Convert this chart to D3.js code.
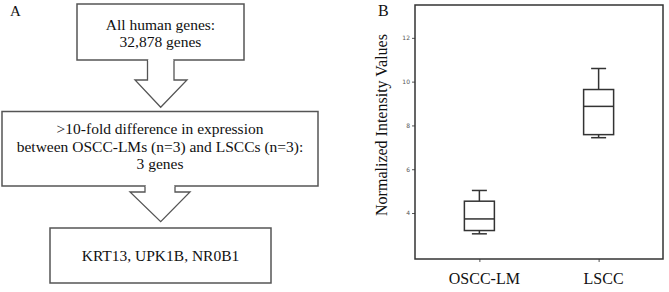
<!DOCTYPE html>
<html><head><meta charset="utf-8">
<script src="https://cdn.jsdelivr.net/npm/d3@7"></script>
<style>html,body{margin:0;padding:0;background:#fff;}svg{display:block;}</style>
</head><body>
<svg id="c" width="669" height="292"></svg>
<script>
// Panel A flow texts
const flowBox1 = ["All human genes:", "32,878 genes"];
const flowBox2 = [">10-fold difference in expression", "between OSCC-LMs (n=3) and LSCCs (n=3):", "3 genes"];
const flowBox3 = ["KRT13, UPK1B, NR0B1"];
// Panel B data
const categories = ["OSCC-LM", "LSCC"];
const whiskerLow = [3.05, 7.44];
const q1 = [3.20, 7.58];
const median = [3.73, 8.87];
const q3 = [4.54, 9.64];
const whiskerHigh = [5.03, 10.60];
const yTicks = [4, 6, 8, 10, 12];
const yLabel = "Normalized Intensity Values";

const svg = d3.select("#c");
const serif = "'Liberation Serif','Times New Roman',serif";
const boxStroke = "#555";

// ---- Panel A ----
svg.append("text").attr("x", 10).attr("y", 16).attr("font-family", serif).attr("font-size", 15).attr("fill", "#111").text("A");

function flowBox(x0, y0, x1, y1, lines, firstBase, lh) {
  svg.append("rect").attr("x", x0).attr("y", y0).attr("width", x1 - x0).attr("height", y1 - y0)
    .attr("fill", "#fff").attr("stroke", boxStroke).attr("stroke-width", 1.5);
  const cx = (x0 + x1) / 2;
  lines.forEach((t, i) => {
    svg.append("text").attr("x", cx).attr("y", firstBase + i * lh).attr("text-anchor", "middle")
      .attr("font-family", serif).attr("font-size", 15.5).attr("fill", "#111").text(t);
  });
}
function arrow(sl, sr, top, baseY, hl, hr, tipX, tipY) {
  const pts = [[sl, top], [sl, baseY], [hl, baseY], [tipX, tipY], [hr, baseY], [sr, baseY], [sr, top]];
  svg.append("path").attr("d", d3.line()(pts)).attr("fill", "#fff").attr("stroke", boxStroke).attr("stroke-width", 1.3);
  svg.append("line").attr("x1", sl + 0.8).attr("x2", sr - 0.8).attr("y1", top).attr("y2", top)
    .attr("stroke", "#fff").attr("stroke-width", 2);
}
flowBox(77, 4, 244, 60, flowBox1, 29.5, 17.5);
flowBox(2, 111.5, 318, 186, flowBox2, 134, 17.5);
flowBox(50, 228, 271, 283, flowBox3, 260.5, 17.5);
arrow(147.5, 174, 60, 80, 135, 187, 160.7, 107.3);
arrow(145, 175, 186, 192, 130, 190, 160.7, 221.7);

// ---- Panel B ----
const L = 415, R = 663, T = 5, B = 259;
const x = d3.scalePoint().domain(categories).range([L, R]).padding(0.54);
const y = d3.scaleLinear().domain([1.9, 13.5]).range([B, T]);

svg.append("text").attr("x", 378).attr("y", 16).attr("font-family", serif).attr("font-size", 16).attr("fill", "#111").text("B");

const ga = svg.append("g").attr("transform", `translate(${L},0)`)
  .call(d3.axisLeft(y).tickValues(yTicks).tickSize(3).tickPadding(2).tickFormat(d3.format("d")));
ga.select(".domain").remove();
ga.selectAll(".tick line").attr("stroke", "#555");
ga.selectAll(".tick text").attr("font-family", "'DejaVu Sans',sans-serif").attr("font-size", 6).attr("fill", "#555");

const gx = svg.append("g").attr("transform", `translate(0,${B})`)
  .call(d3.axisBottom(x).tickSize(3).tickFormat(""));
gx.select(".domain").remove();
gx.selectAll(".tick line").attr("stroke", "#555");

categories.forEach(c => {
  svg.append("text").attr("x", x(c) + 5).attr("y", 283.5).attr("text-anchor", "middle")
    .attr("font-family", serif).attr("font-size", 16).attr("fill", "#111").text(c);
});

svg.append("rect").attr("x", L).attr("y", T).attr("width", R - L).attr("height", B - T)
  .attr("fill", "none").attr("stroke", "#333").attr("stroke-width", 1.5);

svg.append("text").attr("transform", `translate(387,${(33 + 217) / 2}) rotate(-90)`)
  .attr("text-anchor", "middle").attr("font-family", serif).attr("font-size", 16).attr("fill", "#111").text(yLabel);

const bw = 30, cw = 15, bs = "#333";
categories.forEach((c, i) => {
  const cx = x(c);
  const g = svg.append("g").attr("stroke", bs).attr("stroke-width", 1.5).attr("fill", "none");
  g.append("line").attr("x1", cx).attr("x2", cx).attr("y1", y(whiskerHigh[i])).attr("y2", y(q3[i]));
  g.append("line").attr("x1", cx).attr("x2", cx).attr("y1", y(q1[i])).attr("y2", y(whiskerLow[i]));
  g.append("line").attr("x1", cx - cw / 2).attr("x2", cx + cw / 2).attr("y1", y(whiskerHigh[i])).attr("y2", y(whiskerHigh[i]));
  g.append("line").attr("x1", cx - cw / 2).attr("x2", cx + cw / 2).attr("y1", y(whiskerLow[i])).attr("y2", y(whiskerLow[i]));
  g.append("rect").attr("x", cx - bw / 2).attr("y", y(q3[i])).attr("width", bw).attr("height", y(q1[i]) - y(q3[i])).attr("fill", "#fff");
  g.append("line").attr("x1", cx - bw / 2).attr("x2", cx + bw / 2).attr("y1", y(median[i])).attr("y2", y(median[i]));
});
</script>
</body></html>
